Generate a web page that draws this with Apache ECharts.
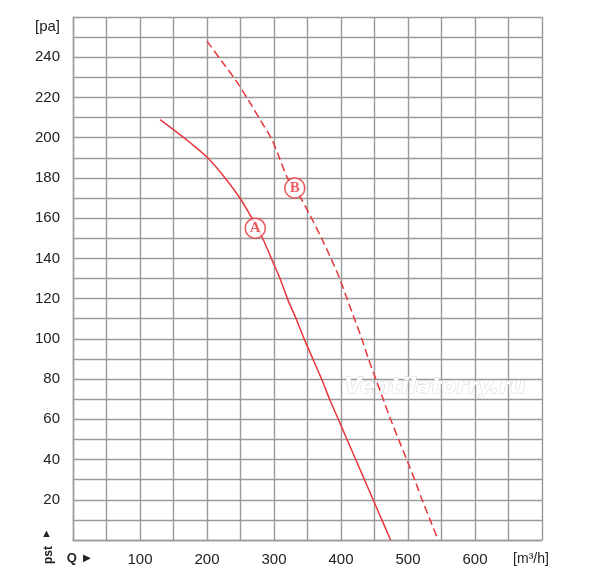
<!DOCTYPE html>
<html>
<head>
<meta charset="utf-8">
<script src="https://cdn.jsdelivr.net/npm/echarts@6/dist/echarts.min.js"></script>
<style>
  html, body { margin: 0; padding: 0; background: #fff; }
  #chart { width: 600px; height: 580px; }
</style>
</head>
<body>
<div id="chart"></div>
<script>
// curve A (solid)
var qA = [130, 150, 175, 201, 227, 249, 267, 283, 296, 309, 320, 333, 345, 358, 371, 383, 396, 409, 422, 435, 448, 461, 474];
var pA = [209, 204, 197.5, 190, 180, 170, 160, 150, 140, 130, 120, 110, 100, 90, 80, 70, 60, 50, 40, 30, 20, 10, 0];

// curve B (dashed)
var qB = [200, 222, 244, 263, 281, 297, 308, 320, 330, 340, 356, 371, 385, 398, 409, 420, 431, 441, 452, 463, 474, 486, 498, 510, 521, 533, 545];
var pB = [248, 238, 228, 218, 208, 199, 190, 180, 175, 170, 160, 150, 140, 130, 120, 110, 100, 90, 80, 70, 60, 50, 40, 30, 20, 10, 0];

// circled curve names
var tagNames = ['A', 'B'];
var tagQ = [272, 331];
var tagP = [155, 175];

var xTicks = {0: 'Q ►', 100: '100', 200: '200', 300: '300', 400: '400', 500: '500', 600: '600', 700: '[m³/h]'};
var yTicks = {0: '▲', 20: '20', 40: '40', 60: '60', 80: '80', 100: '100', 120: '120', 140: '140',
    160: '160', 180: '180', 200: '200', 220: '220', 240: '240', 260: '[pa]'};

var red = '#e8373d';
var gridColor = '#9a9a9a';
var font = '"Liberation Sans", Arial, sans-serif';

function pairs(xs, ys) {
    var out = [];
    for (var i = 0; i < xs.length; i++) {
        out.push([xs[i], ys[i]]);
    }
    return out;
}

var chart = echarts.init(document.getElementById('chart'));

var option = {
    animation: false,
    grid: {left: 73, right: 58, top: 17, bottom: 40},
    xAxis: {
        type: 'value',
        min: 0,
        max: 700,
        interval: 50,
        axisLine: {show: true, lineStyle: {color: gridColor, width: 1.4}},
        axisTick: {show: false},
        splitLine: {show: true, lineStyle: {color: gridColor, width: 1.4}},
        axisLabel: {
            interval: 0,
            margin: 12,
            color: '#222',
            fontFamily: font,
            fontSize: 15,
            showMinLabel: true,
            showMaxLabel: true,
            formatter: function (v) {
                if (v === 0) return '{q|' + xTicks[v] + '}';
                if (v === 700) return '{u|' + xTicks[v] + '}';
                return xTicks[v] || '';
            },
            rich: {
                q: {fontFamily: font, fontSize: 13, fontWeight: 'bold', color: '#222', padding: [0, 0, 0, 14]},
                u: {fontFamily: font, fontSize: 14, color: '#222', padding: [0, 22, 0, 0]}
            }
        }
    },
    yAxis: {
        type: 'value',
        min: 0,
        max: 260,
        interval: 10,
        axisLine: {show: true, lineStyle: {color: gridColor, width: 1.4}},
        axisTick: {show: false},
        splitLine: {show: true, lineStyle: {color: gridColor, width: 1.4}},
        axisLabel: {
            interval: 0,
            margin: 13,
            color: '#222',
            fontFamily: font,
            fontSize: 15,
            showMinLabel: true,
            showMaxLabel: true,
            formatter: function (v) {
                if (v === 0) return '{a|' + yTicks[v] + '}';
                if (v === 260) return '{p|' + yTicks[v] + '}';
                return yTicks[v] || '';
            },
            rich: {
                a: {fontFamily: font, fontSize: 11, color: '#222', padding: [0, 8, 12, 0]},
                p: {fontFamily: font, fontSize: 15, color: '#222', padding: [20, 0, 0, 0]}
            }
        }
    },
    graphic: [
        {
            type: 'text',
            x: 49,
            y: 555,
            rotation: Math.PI / 2,
            style: {
                text: 'pst',
                font: 'bold 12px ' + font,
                fill: '#222',
                align: 'center',
                verticalAlign: 'middle'
            }
        },
        {
            type: 'text',
            left: 344,
            top: 376,
            z: 1,
            style: {
                text: 'Ventilatorry.ru',
                font: 'italic bold 22px "DejaVu Sans", sans-serif',
                fill: '#ffffff',
                stroke: '#d4d4d4',
                lineWidth: 1
            }
        }
    ],
    series: [
        {
            name: 'A',
            type: 'line',
            z: 3,
            data: pairs(qA, pA),
            smooth: 0.3,
            showSymbol: false,
            lineStyle: {color: red, width: 1.5}
        },
        {
            name: 'B',
            type: 'line',
            z: 3,
            data: pairs(qB, pB),
            smooth: 0.3,
            showSymbol: false,
            lineStyle: {color: red, width: 1.5, type: [8, 4]}
        },
        {
            type: 'scatter',
            data: pairs(tagQ, tagP),
            symbol: 'circle',
            symbolSize: 20,
            z: 5,
            itemStyle: {color: '#fff', borderColor: red, borderWidth: 1.5},
            label: {
                show: true,
                position: 'inside',
                color: red,
                fontWeight: 'bold',
                fontSize: 15,
                formatter: function (p) {
                    return tagNames[p.dataIndex];
                },
                fontFamily: '"Liberation Serif", serif'
            }
        }
    ]
};

chart.setOption(option);
</script>
</body>
</html>
